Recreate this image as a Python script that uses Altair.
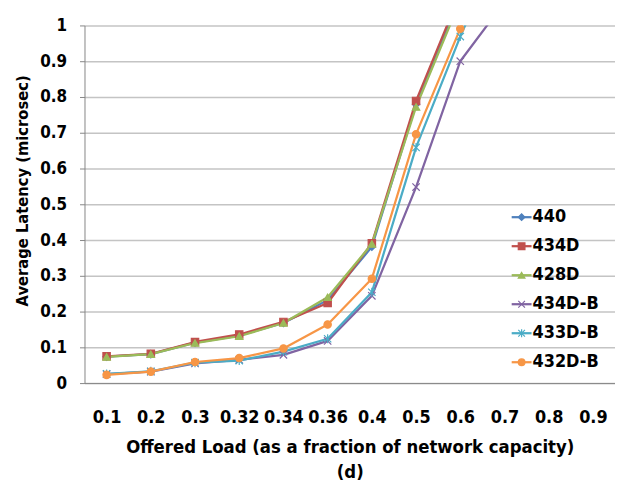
import altair as alt
import pandas as pd

loads = ["0.1", "0.2", "0.3", "0.32", "0.34", "0.36", "0.4", "0.5", "0.6", "0.7", "0.8", "0.9"]
series = ["440", "434D", "428D", "434D-B", "433D-B", "432D-B"]

v_440 = [0.074, 0.081, 0.113, 0.133, 0.168, 0.232, 0.381, 0.780, 1.08]
v_434D = [0.075, 0.082, 0.115, 0.136, 0.171, 0.224, 0.391, 0.789, 1.09]
v_428D = [0.073, 0.081, 0.112, 0.131, 0.168, 0.240, 0.389, 0.772, 1.07]
v_434DB = [0.025, 0.032, 0.055, 0.065, 0.079, 0.118, 0.244, 0.548, 0.900, 1.065]
v_433DB = [0.026, 0.033, 0.057, 0.063, 0.088, 0.124, 0.254, 0.659, 0.969, 1.25]
v_432DB = [0.023, 0.032, 0.059, 0.070, 0.097, 0.164, 0.292, 0.696, 0.991, 1.30]

colors = ["#4F81BD", "#C0504D", "#9BBB59", "#8064A2", "#4BACC6", "#F79646"]
shapes = ["diamond", "square", "triangle-up",
          "M-1,-1L1,1M-1,1L1,-1",
          "M-1,-1L1,1M-1,1L1,-1M0,-1.2L0,1.2",
          "circle"]
y_ticks = [0, 0.1, 0.2, 0.3, 0.4, 0.5, 0.6, 0.7, 0.8, 0.9, 1]

rows = []
for name, vals in zip(series, [v_440, v_434D, v_428D, v_434DB, v_433DB, v_432DB]):
    for i, (ld, v) in enumerate(zip(loads, vals)):
        rows.append({"load": ld, "series": name, "latency": v, "idx": i})
df = pd.DataFrame(rows)
leg = pd.DataFrame({"series": series})

FONT = "DejaVu Sans Condensed"

color = alt.Color("series:N", scale=alt.Scale(domain=series, range=colors), legend=None)
stroke = alt.Stroke("series:N", scale=alt.Scale(domain=series, range=colors), legend=None)
shape = alt.Shape("series:N", scale=alt.Scale(domain=series, range=shapes), legend=None)

x = alt.X("load:N", sort=loads,
          scale=alt.Scale(domain=loads, type="point", padding=0.5),
          axis=alt.Axis(labelAngle=0, labelFont=FONT, labelFontSize=18, labelFontWeight="bold",
                        labelColor="black", ticks=False, tickSize=0, labelPadding=26,
                        labelBaseline="top", labelOverlap=False,
                        domainColor="#868686", domainWidth=1, grid=False,
                        title=["Offered Load (as a fraction of network capacity)", "(d)"],
                        titleFont=FONT, titleFontSize=18.5, titleFontWeight="bold", titleColor="black",
                        titleLineHeight=25, titleBaseline="alphabetic", titleY=70))
y = alt.Y("latency:Q",
          scale=alt.Scale(domain=[0, 1], nice=False, zero=True),
          axis=alt.Axis(values=y_ticks, format="~g", grid=True, gridColor="#c4c4c4", gridWidth=1.5,
                        tickSize=5, tickColor="#868686", domainColor="#868686", domainWidth=1,
                        labelFont=FONT, labelFontSize=17, labelFontWeight="bold", labelColor="black",
                        labelPadding=13,
                        title="Average Latency (microsec)", titleFont=FONT, titleFontSize=16.5,
                        titleFontWeight="bold", titleColor="black", titleX=-62, titleY=166,
                        titleBaseline="middle", titleAlign="center"))

lines = alt.Chart(df).mark_line(strokeWidth=2.25, clip=True, strokeJoin="round").encode(
    x=x, y=y, color=color, order="idx:Q")
points = alt.Chart(df).mark_point(filled=True, size=55, strokeWidth=1.2, opacity=1, clip=True).encode(
    x=x, y=y, fill=color, stroke=stroke, shape=shape)
main = alt.layer(lines, points)

ly = alt.Y("series:N", scale=alt.Scale(domain=series, type="point", range=[193, 339], padding=0), axis=None)
leg_rule = alt.Chart(leg).mark_rule(strokeWidth=2.25).encode(
    x=alt.value(430), x2=alt.value(450), y=ly, color=color)
leg_pt = alt.Chart(leg).mark_point(filled=True, size=45, strokeWidth=1.2, opacity=1).encode(
    x=alt.value(440), y=ly, fill=color, stroke=stroke, shape=shape)
leg_txt = alt.Chart(leg).mark_text(align="left", baseline="middle", font=FONT, fontSize=18,
                                   fontWeight="bold", color="black").encode(
    x=alt.value(451), y=ly, text="series:N")
legend = alt.layer(leg_rule, leg_pt, leg_txt)

chart = alt.layer(main, legend).resolve_scale(y="independent").properties(
    width=534, height=360,
    padding={"left": 77, "top": 16, "right": 0, "bottom": 100},
    autosize=alt.AutoSizeParams(type="none"),
    background="white",
).configure_view(stroke=None)

chart.save("out.html", embed_options={"renderer": "svg", "actions": False})
